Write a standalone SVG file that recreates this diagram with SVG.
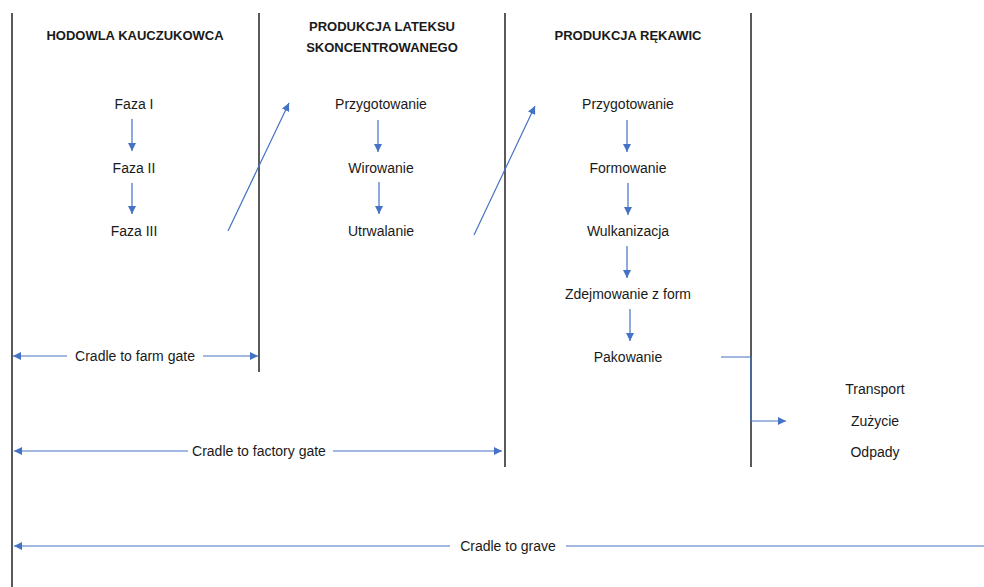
<svg xmlns="http://www.w3.org/2000/svg" width="984" height="587" viewBox="0 0 984 587">
<style>
text{font-family:"Liberation Sans",Arial,sans-serif;fill:#1a1a1a;text-anchor:middle}
.h{font-weight:bold;font-size:13px}
.t{font-size:14px}
.b{stroke:#000;stroke-width:1.3;fill:none}
.c{stroke:#4472C4;stroke-width:1.2;fill:none}
</style>
<defs>
<marker id="ah" viewBox="0 0 10 10" refX="10" refY="5" markerWidth="8" markerHeight="8" markerUnits="userSpaceOnUse" orient="auto-start-reverse">
<path d="M0,0 L10,5 L0,10 z" fill="#4472C4"/>
</marker>
</defs>
<rect width="984" height="587" fill="#fff"/>
<g id="borders">
<line class="b" x1="12" y1="13" x2="12" y2="587"/>
<line class="b" x1="259" y1="13" x2="259" y2="372"/>
<line class="b" x1="505" y1="13" x2="505" y2="467"/>
<line class="b" x1="751" y1="13" x2="751" y2="467"/>
</g>
<g id="headers">
<text class="h" x="135" y="40">HODOWLA KAUCZUKOWCA</text>
<text class="h" x="382" y="31">PRODUKCJA LATEKSU</text>
<text class="h" x="382" y="52">SKONCENTROWANEGO</text>
<text class="h" x="628" y="40">PRODUKCJA RĘKAWIC</text>
</g>
<g id="col1">
<g id="faza1"><text class="t" x="134" y="109">Faza I</text></g>
<g id="faza2"><text class="t" x="134" y="173">Faza II</text></g>
<g id="faza3"><text class="t" x="134" y="236">Faza III</text></g>
</g>
<g id="col2">
<g id="przyg1"><text class="t" x="381" y="109">Przygotowanie</text></g>
<g id="wirow"><text class="t" x="381" y="173">Wirowanie</text></g>
<g id="utrw"><text class="t" x="381" y="236">Utrwalanie</text></g>
</g>
<g id="col3">
<g id="przyg2"><text class="t" x="628" y="109">Przygotowanie</text></g>
<g id="formow"><text class="t" x="628" y="173">Formowanie</text></g>
<g id="wulk"><text class="t" x="628" y="236">Wulkanizacja</text></g>
<g id="zdejm"><text class="t" x="628" y="299">Zdejmowanie z form</text></g>
<g id="pakow"><text class="t" x="628" y="362">Pakowanie</text></g>
</g>
<g id="col4">
<g id="transport"><text class="t" x="875" y="394">Transport</text></g>
<g id="zuzycie"><text class="t" x="875" y="426">Zużycie</text></g>
<g id="odpady"><text class="t" x="875" y="457">Odpady</text></g>
</g>
<g id="ranges">
<text class="t" x="135" y="361">Cradle to farm gate</text>
<text class="t" x="259" y="456">Cradle to factory gate</text>
<text class="t" x="508" y="551">Cradle to grave</text>
</g>
<g id="connectors">
<line class="c" x1="132" y1="119" x2="132" y2="151" marker-end="url(#ah)"/>
<line class="c" x1="132" y1="183" x2="132" y2="214" marker-end="url(#ah)"/>
<line class="c" x1="378" y1="120" x2="378" y2="152" marker-end="url(#ah)"/>
<line class="c" x1="379" y1="182" x2="379" y2="214" marker-end="url(#ah)"/>
<line class="c" x1="627" y1="120" x2="627" y2="152" marker-end="url(#ah)"/>
<line class="c" x1="628" y1="183" x2="628" y2="215" marker-end="url(#ah)"/>
<line class="c" x1="627" y1="246" x2="627" y2="278" marker-end="url(#ah)"/>
<line class="c" x1="630" y1="309" x2="630" y2="341" marker-end="url(#ah)"/>
<line class="c" x1="228" y1="231" x2="289" y2="103" marker-end="url(#ah)"/>
<line class="c" x1="474" y1="235" x2="535" y2="106" marker-end="url(#ah)"/>
<polyline class="c" points="721,357 751,357 751,421 786,421" marker-end="url(#ah)"/>
<line class="c" x1="67" y1="356" x2="13" y2="356" marker-end="url(#ah)"/>
<line class="c" x1="203" y1="356" x2="258" y2="356" marker-end="url(#ah)"/>
<line class="c" x1="188" y1="451" x2="14" y2="451" marker-end="url(#ah)"/>
<line class="c" x1="333" y1="451" x2="502" y2="451" marker-end="url(#ah)"/>
<line class="c" x1="450" y1="546" x2="14" y2="546" marker-end="url(#ah)"/>
<line class="c" x1="566" y1="546" x2="984" y2="546"/>
</g>
</svg>
